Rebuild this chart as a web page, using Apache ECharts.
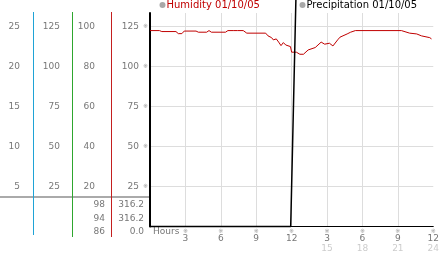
<!DOCTYPE html>
<html><head><meta charset="utf-8">
<script src="https://cdn.jsdelivr.net/npm/echarts@6/dist/echarts.min.js"></script>
<style>html,body{margin:0;padding:0;background:#fff}#c{width:442px;height:253px}</style>
</head><body><div id="c"></div>
<script>
// Humidity (hours since start, %)
const humHours = [0, 0.8, 1.0, 2.2, 2.4, 2.7, 2.9, 3.9, 4.1, 4.8, 5.0, 5.2, 6.4, 6.6, 7.1, 7.2, 7.4, 7.9, 8.2, 9.8, 10.0, 10.3, 10.45, 10.7, 10.9, 11.1, 11.3, 11.5, 11.9, 12.0, 12.4, 12.7, 13.0, 13.4, 14.0, 14.5, 14.8, 15.2, 15.5, 15.9, 16.1, 16.7, 17.0, 17.4, 21.3, 22.0, 22.6, 23.0, 23.7, 23.85];
const humValues = [122.5, 122.5, 121.9, 121.9, 120.6, 120.6, 122.2, 122.2, 121.5, 121.5, 122.5, 121.5, 121.5, 122.5, 122.5, 121.5, 122.5, 122.5, 120.9, 120.9, 119.2, 118.1, 116.7, 117.3, 115.3, 113.1, 115.0, 113.5, 112.5, 109.0, 109.0, 107.7, 107.7, 110.4, 111.9, 115.3, 114.0, 114.6, 112.9, 116.7, 118.4, 120.4, 121.5, 122.5, 122.5, 120.9, 120.4, 119.2, 118.1, 117.3];
// Precipitation (hours, value)
const precHours = [0, 11.92, 11.95, 12.03, 12.9, 24];
const precValues = [0, 0, 9.2, 9.2, 316.2, 316.2];
// Axis ticks / labels
const xInterval = 3;
const col1Max = 26.7, col1Step = 5;      // 5..25
const col2Max = 133.5, col2Step = 25;    // 25..125
const col3Max = 106.8, col3Step = 20;    // 20..100
const mainMax = 133.5, mainStep = 25;    // 25..125
const statsCol3 = ['98', '94', '86'];
const statsCol4 = ['316.2', '316.2', '0.0'];
const legendNames = ['Humidity 01/10/05', 'Precipitation 01/10/05'];

const FONT = 'DejaVu Sans';
const chart = echarts.init(document.getElementById('c'), null, {renderer: 'canvas'});

function pairs(xs, ys) { return xs.map((x, i) => [x, ys[i]]); }
function stepFmt(step) { return v => (v === 0 || Math.abs(v / step - Math.round(v / step)) > 1e-6) ? '' : String(Math.round(v)); }

const labelBase = {color: '#777', fontSize: 9, fontFamily: FONT};

const graphics = [];
// left decoration lines
[[33, 235, '#1fa3d6'], [72, 237, '#2ea62e'], [111, 237, '#c41f1f']].forEach(([x, y2, c]) => {
  graphics.push({type: 'rect', shape: {x: x, y: 12, width: 1, height: y2 - 12}, style: {fill: c}, z: 50});
});
graphics.push({type: 'line', shape: {x1: 0, y1: 197, x2: 149, y2: 197}, style: {stroke: '#aaaaaa', lineWidth: 2}, z: 4});
const statYs = [205, 218.5, 232];
statsCol3.forEach((t, i) => graphics.push({type: 'text', x: 105, y: statYs[i], style: {text: t, align: 'right', verticalAlign: 'middle', fill: '#777', fontSize: 9, fontFamily: FONT}}));
statsCol4.forEach((t, i) => graphics.push({type: 'text', x: 144, y: statYs[i], style: {text: t, align: 'right', verticalAlign: 'middle', fill: '#777', fontSize: 9, fontFamily: FONT}}));
graphics.push({type: 'text', x: 153, y: 232, style: {text: 'Hours', align: 'left', verticalAlign: 'middle', fill: '#777', fontSize: 9, fontFamily: FONT}});

const legendCommon = {
  top: 0, icon: 'circle', itemWidth: 6, itemHeight: 6, padding: 0,
  selectedMode: false,
  textStyle: {fontSize: 10, fontFamily: FONT, padding: [0, 0, 0, -4]}
};

chart.setOption({
  animation: false,
  backgroundColor: '#fff',
  grid: {left: 150, right: 5, top: 13, bottom: 26.5, containLabel: false},
  legend: [
    Object.assign({}, legendCommon, {left: 159.5, data: [{name: legendNames[0], itemStyle: {color: '#a8a8a8'}, textStyle: {color: '#c00000'}}]}),
    Object.assign({}, legendCommon, {left: 299.5, data: [{name: legendNames[1], itemStyle: {color: '#a8a8a8'}, textStyle: {color: '#000'}}]})
  ],
  xAxis: {
    type: 'value', min: 0, max: 24, interval: xInterval,
    axisLine: {show: true, lineStyle: {color: '#000', width: 1}},
    axisTick: {show: false},
    splitLine: {show: true, showMinLine: false, showMaxLine: false, lineStyle: {color: '#dddddd', width: 1}},
    axisLabel: {
      margin: 2, showMinLabel: false,
      formatter: v => {
        if (v === 0) return '';
        if (v <= 12) return '{m|※}\n{d|' + v + '}';
        return '{m|※}\n{d|' + (v - 12) + '}\n{f|' + v + '}';
      },
      rich: {
        m: {fontSize: 6, lineHeight: 6, color: '#999', fontFamily: FONT},
        d: {fontSize: 9, lineHeight: 9, color: '#777', fontFamily: FONT},
        f: {fontSize: 9, lineHeight: 10, color: '#cccccc', fontFamily: FONT}
      }
    }
  },
  yAxis: [
    {
      type: 'value', min: 0, max: mainMax, interval: mainStep, position: 'left',
      axisLine: {show: true, onZero: false, lineStyle: {color: '#000', width: 2}},
      axisTick: {show: false},
      splitLine: {show: true, showMinLine: false, showMaxLine: false, lineStyle: {color: '#dddddd', width: 1}},
      axisLabel: {
        margin: 2,
        formatter: v => { const s = stepFmt(mainStep)(v); return s ? '{v|' + s + '}{m|※}' : ''; },
        rich: {
          v: Object.assign({}, labelBase),
          m: {fontSize: 6, color: '#999', fontFamily: FONT, padding: [0, 0, 0, 4]}
        }
      }
    },
    {
      type: 'value', min: 0, max: col1Max, interval: col1Step, position: 'left', offset: 130,
      axisLine: {show: false}, axisTick: {show: false}, splitLine: {show: false},
      axisLabel: Object.assign({margin: 0, formatter: stepFmt(col1Step)}, labelBase)
    },
    {
      type: 'value', min: 0, max: col2Max, interval: col2Step, position: 'left', offset: 90,
      axisLine: {show: false}, axisTick: {show: false}, splitLine: {show: false},
      axisLabel: Object.assign({margin: 0, formatter: stepFmt(col2Step)}, labelBase)
    },
    {
      type: 'value', min: 0, max: col3Max, interval: col3Step, position: 'left', offset: 55,
      axisLine: {show: false}, axisTick: {show: false}, splitLine: {show: false},
      axisLabel: Object.assign({margin: 0, formatter: stepFmt(col3Step)}, labelBase)
    }
  ],
  graphic: graphics,
  series: [
    {
      name: legendNames[0], type: 'line', yAxisIndex: 0, data: pairs(humHours, humValues),
      showSymbol: false, symbol: 'none', lineStyle: {color: '#c00000', width: 1}, itemStyle: {color: '#c00000'}, z: 3
    },
    {
      name: legendNames[1], type: 'line', yAxisIndex: 0, data: pairs(precHours, precValues),
      showSymbol: false, symbol: 'none', clip: false, lineStyle: {color: '#000', width: 1.5}, itemStyle: {color: '#000'}, z: 4
    }
  ]
});
</script>
</body></html>
